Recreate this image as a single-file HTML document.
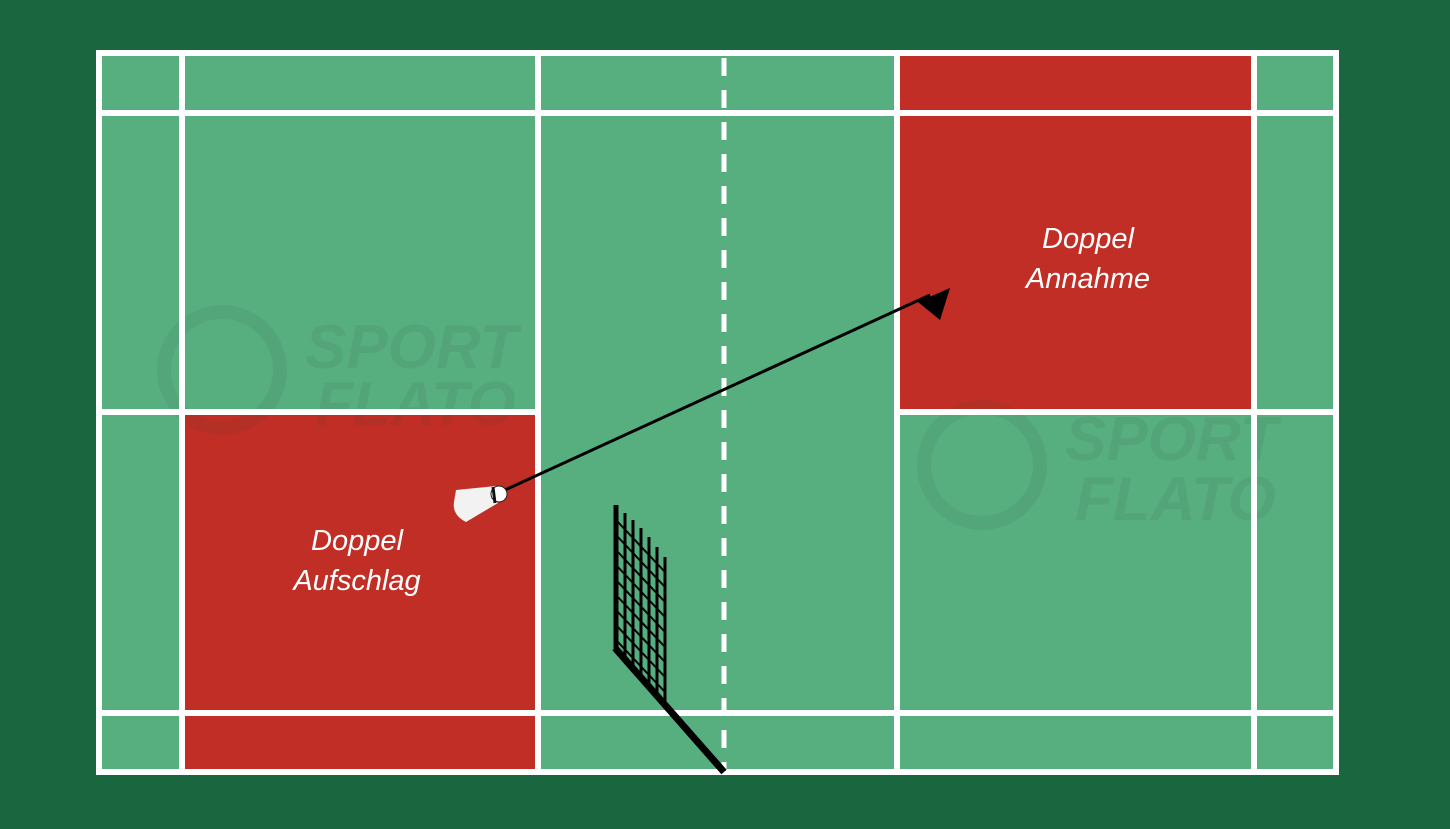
<!DOCTYPE html>
<html><head><meta charset="utf-8"><style>html,body{margin:0;padding:0;background:#19663f;}svg{display:block}</style></head>
<body>
<svg width="1450" height="829" viewBox="0 0 1450 829" xmlns="http://www.w3.org/2000/svg">
<rect width="1450" height="829" fill="#19663f"/>
<rect x="96" y="50" width="1243" height="725" fill="#ffffff"/>
<rect x="102" y="56" width="1231" height="713" fill="#57ae7f"/>
<rect x="900" y="56" width="351" height="54" fill="#c12e25"/>
<rect x="900" y="116" width="351" height="294" fill="#c12e25"/>
<rect x="185" y="415" width="351" height="295" fill="#c12e25"/>
<rect x="185" y="716" width="351" height="53" fill="#c12e25"/>
<g opacity="0.08" fill="#2b4a3a" font-family="Liberation Sans, sans-serif" font-weight="bold" font-style="italic">
<circle cx="222" cy="370" r="58" fill="none" stroke="#2b4a3a" stroke-width="14"/>
<text x="305" y="368" font-size="62">SPORT</text>
<text x="315" y="425" font-size="62">FLATO</text>
<circle cx="982" cy="465" r="58" fill="none" stroke="#2b4a3a" stroke-width="14"/>
<text x="1065" y="460" font-size="62">SPORT</text>
<text x="1075" y="520" font-size="62">FLATO</text>
</g>
<g fill="#ffffff">
<rect x="179" y="50" width="6" height="725"/>
<rect x="535" y="50" width="6" height="725"/>
<rect x="894" y="50" width="6" height="725"/>
<rect x="1251" y="50" width="6" height="725"/>
<rect x="96" y="110" width="1243" height="6"/>
<rect x="96" y="409" width="445" height="6"/>
<rect x="894" y="409" width="445" height="6"/>
<rect x="96" y="710" width="1243" height="6"/>
</g>
<line x1="724" y1="58" x2="724" y2="770" stroke="#fff" stroke-width="5" stroke-dasharray="18 14"/>
<line x1="505" y1="490" x2="930" y2="295" stroke="#000" stroke-width="3"/>
<polygon points="950,288 918,302 940,320" fill="#000"/>
<path d="M456,490 L496,486 L498,503 L466,522 Q452,515 454,502Z" fill="#f2f2f2"/>
<circle cx="499" cy="494" r="8" fill="#fff" stroke="#222" stroke-width="1"/>
<line x1="493" y1="487" x2="495" y2="503" stroke="#111" stroke-width="3"/>
<g stroke="#000">
<line x1="615" y1="648" x2="724" y2="772" stroke-width="7"/>
<line x1="616" y1="505" x2="616" y2="650" stroke-width="5"/>
<line x1="625" y1="513" x2="625" y2="660" stroke-width="3"/>
<line x1="633" y1="520" x2="633" y2="669" stroke-width="3"/>
<line x1="641" y1="528" x2="641" y2="678" stroke-width="3"/>
<line x1="649" y1="537" x2="649" y2="687" stroke-width="3"/>
<line x1="657" y1="547" x2="657" y2="696" stroke-width="3"/>
<line x1="665" y1="557" x2="665" y2="705" stroke-width="3"/>
<g stroke-width="2">
<line x1="616" y1="520" x2="665" y2="572"/>
<line x1="616" y1="535" x2="665" y2="587"/>
<line x1="616" y1="550" x2="665" y2="602"/>
<line x1="616" y1="565" x2="665" y2="617"/>
<line x1="616" y1="580" x2="665" y2="632"/>
<line x1="616" y1="595" x2="665" y2="647"/>
<line x1="616" y1="610" x2="665" y2="662"/>
<line x1="616" y1="625" x2="665" y2="677"/>
<line x1="616" y1="640" x2="665" y2="692"/>
</g>
</g>
<g fill="#fff" font-family="Liberation Sans, sans-serif" font-style="italic" font-size="29" text-anchor="middle">
<text x="1088" y="248">Doppel</text>
<text x="1088" y="288">Annahme</text>
<text x="357" y="550">Doppel</text>
<text x="357" y="590">Aufschlag</text>
</g>
</svg>
</body></html>
